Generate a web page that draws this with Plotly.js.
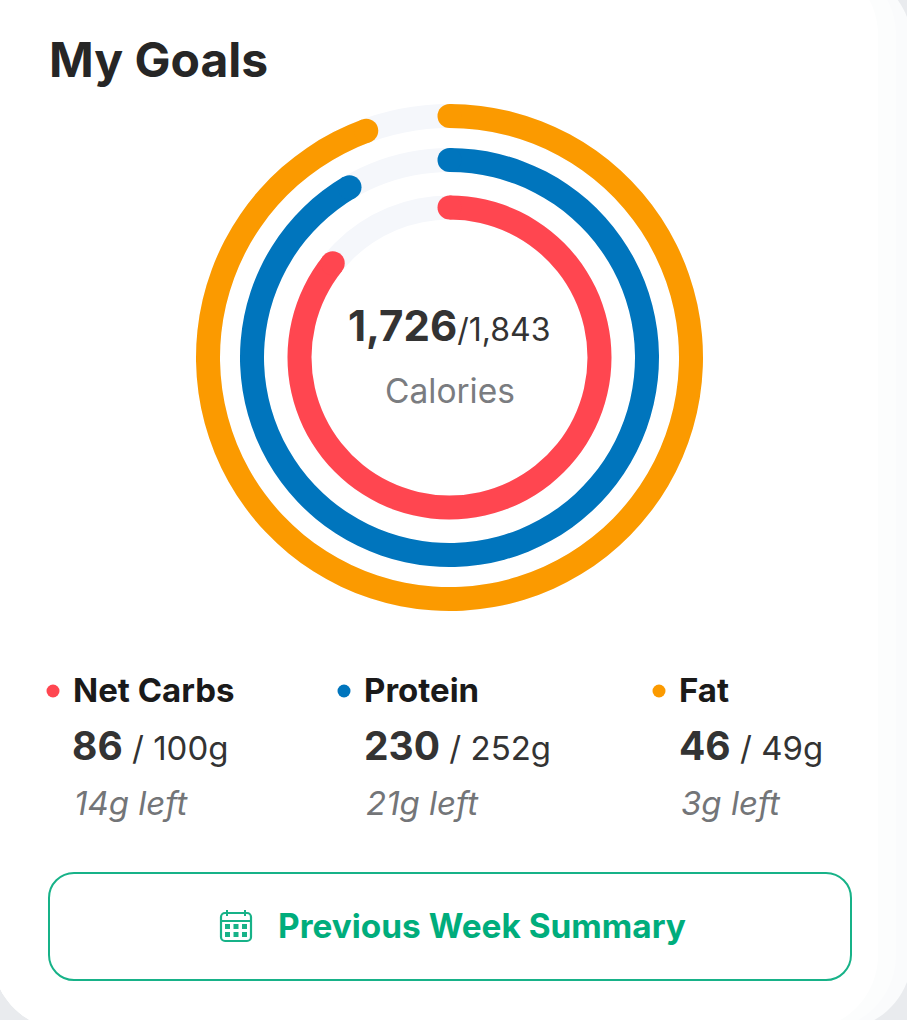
<!DOCTYPE html>
<html><head><meta charset="utf-8">
<style>html,body{margin:0;padding:0;background:#fff;overflow:hidden}</style>
<script src="https://cdn.plot.ly/plotly-3.0.0.min.js"></script>
</head><body><div id="chart" style="width:907px;height:1020px"></div>
<script>
// ---- data ----
const macros = ['Net Carbs', 'Protein', 'Fat'];
const consumed = [86, 230, 46];
const goals = [100, 252, 49];
const leftText = ['14g left', '21g left', '3g left'];
const ringFraction = [0.858, 0.9155, 0.944];   // share of the ring drawn, as pictured
const ringRadius = [150, 197.5, 241.5];
const ringColors = ['#ff4650', '#0075bd', '#fb9a00'];
const caloriesEaten = '1,726';
const caloriesGoal = '1,843';
const FONT = 'Inter, Lato, sans-serif';
const THICK = 24, CX = 449.5, CY = 357.5, RMAX = 260, W = 907, H = 1020;

const traces = [];
// grey tracks
traces.push({type:'barpolar', subplot:'polar', hoverinfo:'skip', showlegend:false,
  theta: ringRadius.map(()=>180), width: ringRadius.map(()=>360),
  base: ringRadius.map(r=>r-THICK/2), r: ringRadius.map(()=>THICK),
  marker:{color:'#f5f7fb', line:{width:0}}});
// coloured arcs
traces.push({type:'barpolar', subplot:'polar', hoverinfo:'skip', showlegend:false,
  theta: ringFraction.map(f=>f*180), width: ringFraction.map(f=>f*360),
  base: ringRadius.map(r=>r-THICK/2), r: ringRadius.map(()=>THICK),
  marker:{color:ringColors, line:{width:0}}});
// round caps
traces.push({type:'scatterpolar', subplot:'polar', mode:'markers', hoverinfo:'skip', showlegend:false,
  theta: ringFraction.map(()=>0).concat(ringFraction.map(f=>f*360)),
  r: ringRadius.concat(ringRadius),
  marker:{size:THICK, color:ringColors.concat(ringColors), line:{width:0}}});

// legend
const colX = [53, 344, 659];
const textX = [73, 364, 679];
const numX = [72, 364, 679];
traces.push({type:'scatter', mode:'markers', xaxis:'x', yaxis:'y', hoverinfo:'skip', showlegend:false,
  x: colX, y: macros.map(()=>691), marker:{size:13, color:ringColors, line:{width:0}}});

function ann(x, y, text, size, color, anchor, extra){
  return Object.assign({x, y, xref:'x', yref:'y', text, showarrow:false,
    xanchor:anchor||'left', yanchor:'middle', borderpad:0, borderwidth:0,
    font:{family:FONT, size, color}}, extra||{});
}
const annotations = [
  ann(49, 59, '<b>My Goals</b>', 48, '#262626'),
  ann(449, 325, '<b>'+caloriesEaten+'</b><span style="font-size:32px">/'+caloriesGoal+'</span>', 42, '#333333', 'center'),
  ann(450, 391, 'Calories', 33.5, '#7a7c80', 'center'),
  ann(278, 926, '<b>Previous Week Summary</b>', 33.4, '#00ad7c')
];
macros.forEach((m,i)=>{
  annotations.push(ann(textX[i], 690, '<b>'+m+'</b>', 33, '#1a1a1a'));
  annotations.push(ann(numX[i], 745, '<b>'+consumed[i]+'</b><span style="font-size:33px"> / '+goals[i]+'g</span>', 39, '#333333'));
  annotations.push(ann(numX[i]+2, 803, '<i>'+leftText[i]+'</i>', 33, '#737578'));
});

function rr(x0,y0,x1,y1,r){
  const k=r*0.448;
  return `M${x0+r},${y0}L${x1-r},${y0}C${x1-k},${y0} ${x1},${y0+k} ${x1},${y0+r}L${x1},${y1-r}C${x1},${y1-k} ${x1-k},${y1} ${x1-r},${y1}L${x0+r},${y1}C${x0+k},${y1} ${x0},${y1-k} ${x0},${y1-r}L${x0},${y0+r}C${x0},${y0+k} ${x0+k},${y0} ${x0+r},${y0}Z`;
}
const shapes = [
  {type:'path', xref:'x', yref:'y', layer:'below', path:rr(-8,-31,912,1030,75), fillcolor:'#fafbfc', line:{width:0}},
  {type:'path', xref:'x', yref:'y', layer:'below', path:rr(-8,-40,896,1030,75), fillcolor:'#fcfdfd', line:{width:0}},
  {type:'path', xref:'x', yref:'y', layer:'below', path:rr(-8,-40,878,1030,75), fillcolor:'#ffffff', line:{width:0}},
  {type:'rect', xref:'x', yref:'y', layer:'below', x0:-1, x1:30, y0:-1, y1:30, fillcolor:'#ffffff', line:{width:0}},
  {type:'path', xref:'x', yref:'y', layer:'below', path:rr(49,873,851,980,25), fillcolor:'rgba(0,0,0,0)', line:{color:'#17b288', width:2}},
  // calendar icon
  {type:'path', xref:'x', yref:'y', layer:'below', path:rr(221,913,251,941,4), fillcolor:'rgba(0,0,0,0)', line:{color:'#17b288', width:2.2}},
  {type:'line', xref:'x', yref:'y', layer:'below', x0:221, x1:251, y0:921, y1:921, line:{color:'#17b288', width:2}},
  {type:'line', xref:'x', yref:'y', layer:'below', x0:227, x1:227, y0:910, y1:916, line:{color:'#17b288', width:2}},
  {type:'line', xref:'x', yref:'y', layer:'below', x0:245, x1:245, y0:910, y1:916, line:{color:'#17b288', width:2}}
];
[227.5,236,244.5].forEach(x=>[926.5,934.5].forEach(y=>{
  shapes.push({type:'rect', xref:'x', yref:'y', layer:'below', x0:x-2.5, x1:x+2.5, y0:y-2.5, y1:y+2.5, fillcolor:'#17b288', line:{width:0}});
}));

const layout = {
  width:W, height:H, margin:{l:0,r:0,t:0,b:0,pad:0}, paper_bgcolor:'#e9ebee', plot_bgcolor:'rgba(0,0,0,0)',
  showlegend:false, autosize:false, shapes, annotations,
  xaxis:{range:[0,W], visible:false, fixedrange:true, domain:[0,1]},
  yaxis:{range:[H,0], visible:false, fixedrange:true, domain:[0,1]},
  polar:{
    domain:{x:[(CX-RMAX)/W,(CX+RMAX)/W], y:[1-(CY+RMAX)/H,1-(CY-RMAX)/H]},
    bgcolor:'rgba(0,0,0,0)', barmode:'overlay',
    radialaxis:{visible:false, range:[0,RMAX]},
    angularaxis:{visible:false, rotation:90, direction:'clockwise'}
  }
};
Plotly.newPlot('chart', traces, layout, {displayModeBar:false, staticPlot:true});
</script></body></html>
